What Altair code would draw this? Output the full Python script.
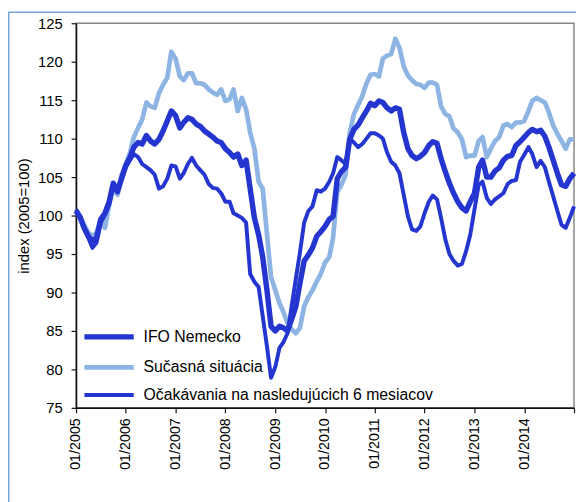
import altair as alt
import pandas as pd

# ---- data (monthly, 01/2005 .. 01/2015) ----
series_names = ["IFO Nemecko", "Sučasná situácia", "Očakávania na nasledujúcich 6 mesiacov"]

ifo = [100.6, 99.7, 98.4, 97.3, 96.7, 97.1, 99.5, 100.3, 101.8, 104.2, 103.1, 104.8,
       106.5, 107.6, 108.9, 109.5, 109.3, 110.4, 109.7, 109.3, 109.9, 111.0, 112.3, 113.6,
       113.0, 111.4, 112.1, 112.7, 112.5, 111.9, 111.6, 111.0, 110.6, 110.2, 109.7, 109.5,
       108.7, 108.2, 107.6, 108.0, 106.5, 107.2, 103.5, 99.7, 97.5, 94.6, 90.3, 85.6,
       85.0, 85.6, 85.4, 85.0, 86.5, 88.2, 91.2, 94.1, 94.9, 95.8, 97.3, 97.9,
       98.6, 99.5, 99.9, 104.8, 105.7, 106.3, 109.9, 111.2, 111.8, 112.7, 113.6, 114.6,
       114.3, 114.9, 114.7, 114.0, 113.6, 114.0, 113.8, 110.8, 108.7, 107.8, 107.4, 107.7,
       108.2, 109.1, 109.6, 109.4, 107.4, 105.7, 104.2, 102.9, 101.8, 101.0, 100.6, 101.8,
       102.9, 106.3, 107.2, 105.0, 105.0, 105.8, 106.2, 107.2, 107.7, 107.8, 109.1, 109.6,
       110.2, 110.8, 111.2, 110.9, 111.1, 110.3, 108.9, 107.2, 105.5, 104.0, 103.8, 104.8,
       105.5]

situacia = [100.6, 99.9, 98.8, 97.8, 97.3, 97.8, 99.5, 98.4, 101.4, 103.5, 102.7, 105.3,
            106.7, 108.2, 110.2, 111.4, 112.5, 114.7, 114.2, 114.0, 115.9, 117.0, 117.9, 121.3,
            120.4, 118.1, 117.6, 118.5, 118.5, 117.2, 117.2, 117.0, 116.4, 116.0, 115.7, 116.4,
            114.9, 115.1, 116.4, 113.6, 115.3, 113.8, 110.8, 108.7, 104.4, 103.5, 97.6, 92.0,
            90.3, 88.6, 87.5, 86.0, 85.2, 84.7, 85.4, 88.2, 89.4, 90.3, 91.4, 92.4,
            93.9, 94.6, 97.1, 103.1, 104.0, 105.3, 110.8, 113.2, 114.4, 115.5, 117.2, 118.3,
            118.4, 118.1, 120.4, 120.8, 121.0, 123.0, 121.8, 119.4, 118.2, 117.6, 117.1, 117.0,
            116.6, 117.3, 117.3, 117.0, 114.2, 113.2, 112.9, 111.3, 110.8, 109.9, 107.6, 107.8,
            107.8, 109.7, 110.2, 107.6, 108.7, 109.7, 110.2, 111.7, 111.9, 111.5, 112.1, 112.1,
            112.3, 113.6, 114.9, 115.3, 115.0, 114.7, 113.4, 111.7, 110.6, 109.7, 108.7, 109.9,
            109.9]

ocakavania = [100.8, 99.9, 98.4, 97.1, 95.8, 96.5, 99.1, 100.1, 101.4, 104.0, 103.5, 105.0,
              106.3, 107.2, 108.0, 107.6, 106.7, 106.3, 105.9, 105.3, 103.5, 103.8, 104.8, 106.5,
              106.4, 104.8, 105.5, 106.7, 107.5, 106.5, 105.9, 105.3, 104.1, 103.6, 103.5, 102.9,
              101.8, 101.8, 100.3, 100.0, 99.7, 99.1, 92.4, 91.4, 90.7, 86.9, 83.0, 78.9,
              80.3, 82.8, 83.5, 84.7, 88.2, 91.8, 95.2, 99.1, 100.6, 101.2, 103.3, 103.1,
              103.5, 104.4, 105.5, 107.6, 107.2, 106.7, 110.0, 109.5, 108.9, 109.3, 110.0, 110.7,
              110.7, 110.4, 110.0, 108.2, 107.0, 106.5, 105.5, 102.7, 99.9, 98.2, 98.0, 98.6,
              100.3, 101.8, 102.6, 102.1, 99.7, 96.9, 95.0, 94.1, 93.5, 93.7, 95.4, 97.5,
              100.8, 104.0, 104.4, 102.3, 101.5, 102.1, 102.5, 102.9, 104.1, 104.5, 104.6, 107.0,
              107.9, 108.9, 108.0, 106.3, 107.1, 106.3, 104.4, 102.5, 100.6, 98.8, 98.4, 99.7,
              101.2]

dates = pd.date_range("2005-01-01", periods=len(ifo), freq="MS").strftime("%Y-%m-%dT00:00:00").tolist()
tick_years = list(range(2005, 2016))
y_ticks = list(range(75, 130, 5))

# draw order: situation, expectations, then the thick IFO line on top
rows = []
for name, vals in [(series_names[1], situacia), (series_names[2], ocakavania), (series_names[0], ifo)]:
    for d, v in zip(dates, vals):
        rows.append({"date": d, "value": v, "series": name})
df = pd.DataFrame(rows)

DARK = "#2436CF"
LIGHT = "#8DB4E3"
FONT = "Liberation Sans"

# a long horizontal stroke symbol (path scaled by sqrt(size)/2 = 5 -> 50px long)
legend = alt.Legend(
    title=None, orient="none", legendX=25.5, legendY=310,
    symbolType="M-5,0H5", symbolSize=100, labelFontSize=16, labelFont=FONT,
    labelColor="#000", labelOffset=27, rowPadding=10, padding=0,
    labelLimit=400,
)

lines = alt.Chart(df).mark_line(strokeJoin="round").encode(
    x=alt.X("date:T",
            scale=alt.Scale(domain=[alt.DateTime(year=2005, month=1, date=1),
                                    alt.DateTime(year=2015, month=1, date=1)]),
            axis=alt.Axis(values=[alt.DateTime(year=y, month=1, date=1) for y in tick_years],
                          labelExpr="year(datum.value) < 2015 ? timeFormat(datum.value, '%m/%Y') : ''",
                          labelAngle=270, title=None, grid=False,
                          labelFontSize=14.5, labelPadding=5, tickSize=5)),
    y=alt.Y("value:Q",
            scale=alt.Scale(domain=[75, 125], nice=False, zero=False),
            axis=alt.Axis(values=y_ticks, title="index (2005=100)", grid=False,
                          labelFontSize=15, labelPadding=9, tickSize=5,
                          titleFontSize=15, titlePadding=6)),
    color=alt.Color("series:N", scale=alt.Scale(domain=series_names, range=[DARK, LIGHT, DARK]),
                    legend=legend),
    strokeWidth=alt.StrokeWidth("series:N", scale=alt.Scale(domain=series_names, range=[5.5, 4, 2.6]),
                                legend=legend),
)

frame = alt.Chart(alt.Data(values=[{}])).mark_rect(fill=None, stroke="#7AA3D8", strokeWidth=1.5).encode(
    x=alt.value(-68.2), x2=alt.value(1000), y=alt.value(-11.2), y2=alt.value(1000)
)

chart = alt.layer(frame, lines).properties(
    width=505, height=390,
    autosize=alt.AutoSizeParams(type="none"),
    padding={"left": 69, "top": 12, "right": 2, "bottom": 92},
).configure_view(
    stroke="#888", strokeWidth=1.5
).configure_axis(
    labelFont=FONT, titleFont=FONT, labelColor="#000", titleColor="#000",
    domainColor="#111", tickColor="#111", domainWidth=1.5, tickWidth=1.2,
    titleFontWeight="normal",
)

chart.save("out.html", embed_options={"renderer": "svg", "actions": False})
